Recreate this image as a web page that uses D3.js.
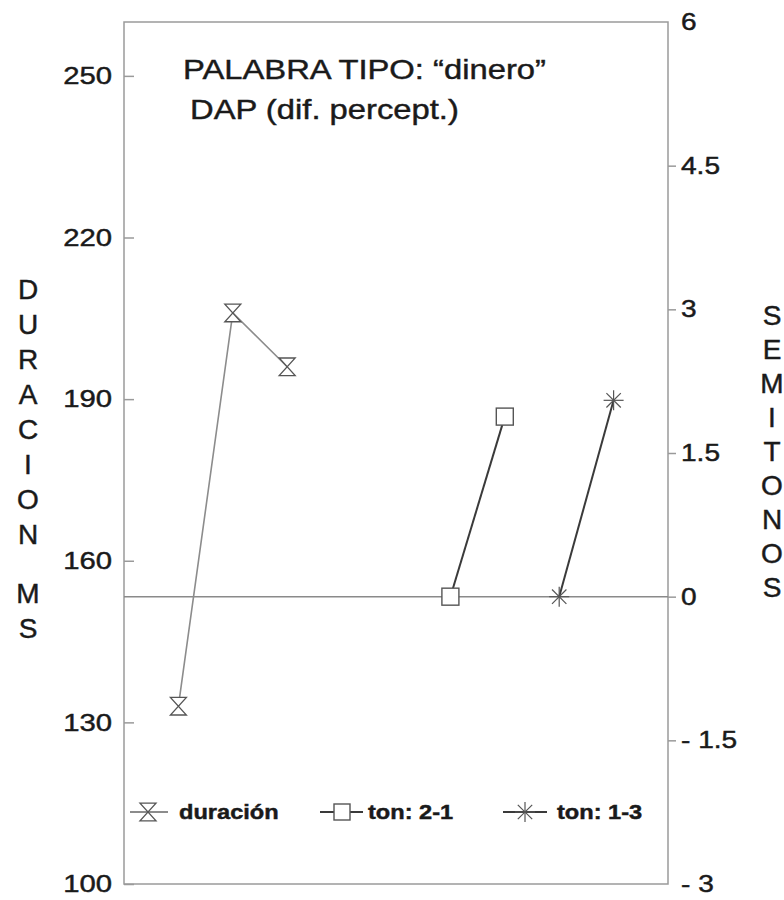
<!DOCTYPE html>
<html>
<head>
<meta charset="utf-8">
<script src="https://cdn.jsdelivr.net/npm/d3@7/dist/d3.min.js"></script>
<style>
  html, body { margin: 0; padding: 0; background: #fff; }
  svg { display: block; }
  text { font-family: "Liberation Sans", Arial, sans-serif; fill: #1a1a1a; stroke: #1a1a1a; stroke-width: 0.45px; }
</style>
</head>
<body>
<svg id="chart" width="784" height="900"></svg>
<script>
// ---- data ----
const durX = [1, 2, 3];
const durValues = [133, 206, 196];           // ms (left axis)
const ton21X = [6, 7];
const ton21Values = [0, 1.88];               // semitones (right axis)
const ton13X = [8, 9];
const ton13Values = [0, 2.05];               // semitones (right axis)
const leftTicks = [100, 130, 160, 190, 220, 250];
const rightTicks = [-3, -1.5, 0, 1.5, 3, 4.5, 6];
const titleLines = ["PALABRA TIPO: \u201Cdinero\u201D", "DAP (dif. percept.)"];
const leftTitle = ["D","U","R","A","C","I","O","N","","M","S"];
const rightTitle = ["S","E","M","I","T","O","N","O","S"];
const legendLabels = ["duración", "ton: 2-1", "ton: 1-3"];

// ---- layout ----
const svg = d3.select("#chart");
const L = 124, R = 668, T = 22, B = 884;
const STRETCH = 1.22;

const x = d3.scaleLinear().domain([0, 10]).range([L, R]);
const yL = d3.scaleLinear().domain([100, 260]).range([B, T]);
const yR = d3.scaleLinear().domain([-3, 6]).range([B, T]);

function stretch(sel, f) {
  sel.each(function() {
    const w = this.getComputedTextLength();
    if (w > 0) {
      this.setAttribute("textLength", w * (f || STRETCH));
      this.setAttribute("lengthAdjust", "spacingAndGlyphs");
    }
  });
}

// frame
svg.append("rect").attr("x", L).attr("y", T).attr("width", R - L).attr("height", B - T)
  .attr("fill", "none").attr("stroke", "#9a9a9a").attr("stroke-width", 1.5);

// left axis (ticks inward)
const gL = svg.append("g").attr("transform", `translate(${L},0)`)
  .call(d3.axisLeft(yL).tickValues(leftTicks).tickSize(-10).tickPadding(12).tickFormat(d3.format("d")));
gL.select(".domain").remove();
gL.selectAll(".tick line").attr("stroke", "#9a9a9a").attr("stroke-width", 1.5);
gL.selectAll(".tick text").attr("font-size", 24).attr("fill", "#1a1a1a")
  .attr("font-family", "Liberation Sans, Arial, sans-serif");
stretch(gL.selectAll(".tick text"));

// right axis (ticks outward)
const gR = svg.append("g").attr("transform", `translate(${R},0)`)
  .call(d3.axisRight(yR).tickValues(rightTicks).tickSize(8).tickPadding(5)
    .tickFormat(d => d < 0 ? "- " + Math.abs(d) : String(d)));
gR.select(".domain").remove();
gR.selectAll(".tick line").attr("stroke", "#9a9a9a").attr("stroke-width", 1.5)
  .attr("display", d => (d === -3 || d === 6) ? "none" : null);
gR.selectAll(".tick text").attr("font-size", 23).attr("fill", "#1a1a1a")
  .attr("font-family", "Liberation Sans, Arial, sans-serif");
stretch(gR.selectAll(".tick text"));

// zero line (right axis)
svg.append("line").attr("x1", L).attr("x2", R).attr("y1", yR(0)).attr("y2", yR(0))
  .attr("stroke", "#8a8a8a").attr("stroke-width", 1.5);

// title
svg.append("text").attr("x", 183).attr("y", 79).attr("font-size", 28).text(titleLines[0]).call(stretch, 1.17);
svg.append("text").attr("x", 190).attr("y", 119).attr("font-size", 28).text(titleLines[1]).call(stretch, 1.17);

// vertical axis titles
let yy = 299;
leftTitle.forEach(ch => {
  if (ch) svg.append("text").attr("x", 28).attr("y", yy).attr("text-anchor", "middle")
    .attr("font-size", 28).text(ch);
  yy += ch ? 35 : 24;
});
rightTitle.forEach((ch, i) => {
  svg.append("text").attr("x", 772).attr("y", 325 + i * 34).attr("text-anchor", "middle")
    .attr("font-size", 28).text(ch);
});

// markers
function hourglass(g, cx, cy, s) {
  g.append("path").attr("d", `M${cx - s},${cy - s * 1.1}H${cx + s}L${cx - s},${cy + s * 1.1}H${cx + s}Z`)
    .attr("fill", "#fff").attr("stroke", "#555").attr("stroke-width", 1.3);
}
function square(g, cx, cy, s) {
  g.append("rect").attr("x", cx - s).attr("y", cy - s).attr("width", 2 * s).attr("height", 2 * s)
    .attr("fill", "#fff").attr("stroke", "#555").attr("stroke-width", 1.4);
}
function asterisk(g, cx, cy, s) {
  [[s, 0], [0, s], [s * 0.72, s * 0.72], [s * 0.72, -s * 0.72]].forEach(([dx, dy]) => {
    g.append("line").attr("x1", cx - dx).attr("y1", cy - dy).attr("x2", cx + dx).attr("y2", cy + dy)
      .attr("stroke", "#555").attr("stroke-width", 1.2);
  });
}

const lineGen = (xs, vs, ys) => d3.line().x((d, i) => x(xs[i])).y(d => ys(d))(vs);

// duración series
const gD = svg.append("g");
gD.append("path").attr("d", lineGen(durX, durValues, yL)).attr("fill", "none")
  .attr("stroke", "#8c8c8c").attr("stroke-width", 1.6);
durValues.forEach((v, i) => hourglass(gD, x(durX[i]), yL(v), 8));

// ton 2-1 series
const g21 = svg.append("g");
g21.append("path").attr("d", lineGen(ton21X, ton21Values, yR)).attr("fill", "none")
  .attr("stroke", "#3a3a3a").attr("stroke-width", 2);
ton21Values.forEach((v, i) => square(g21, x(ton21X[i]), yR(v), 8.5));

// ton 1-3 series
const g13 = svg.append("g");
g13.append("path").attr("d", lineGen(ton13X, ton13Values, yR)).attr("fill", "none")
  .attr("stroke", "#3a3a3a").attr("stroke-width", 2);
ton13Values.forEach((v, i) => asterisk(g13, x(ton13X[i]), yR(v), 10));

// legend
const ly = 812;
const leg = svg.append("g");
const legItems = [
  {x1: 130, x2: 168, mx: 148, tx: 179, stroke: "#8c8c8c", draw: hourglass, s: 8},
  {x1: 320, x2: 363, mx: 342, tx: 368, stroke: "#3a3a3a", draw: square, s: 8},
  {x1: 503, x2: 547, mx: 525, tx: 557, stroke: "#3a3a3a", draw: asterisk, s: 10}
];
legItems.forEach((it, i) => {
  leg.append("line").attr("x1", it.x1).attr("x2", it.x2).attr("y1", ly).attr("y2", ly)
    .attr("stroke", it.stroke).attr("stroke-width", 1.8);
  it.draw(leg, it.mx, ly, it.s);
  leg.append("text").attr("x", it.tx).attr("y", ly + 7).attr("font-size", 20).attr("font-weight", "bold")
    .attr("fill", "#2a2a2a").attr("stroke-width", 0).text(legendLabels[i]).call(stretch, 1.18);
});
</script>
</body>
</html>
